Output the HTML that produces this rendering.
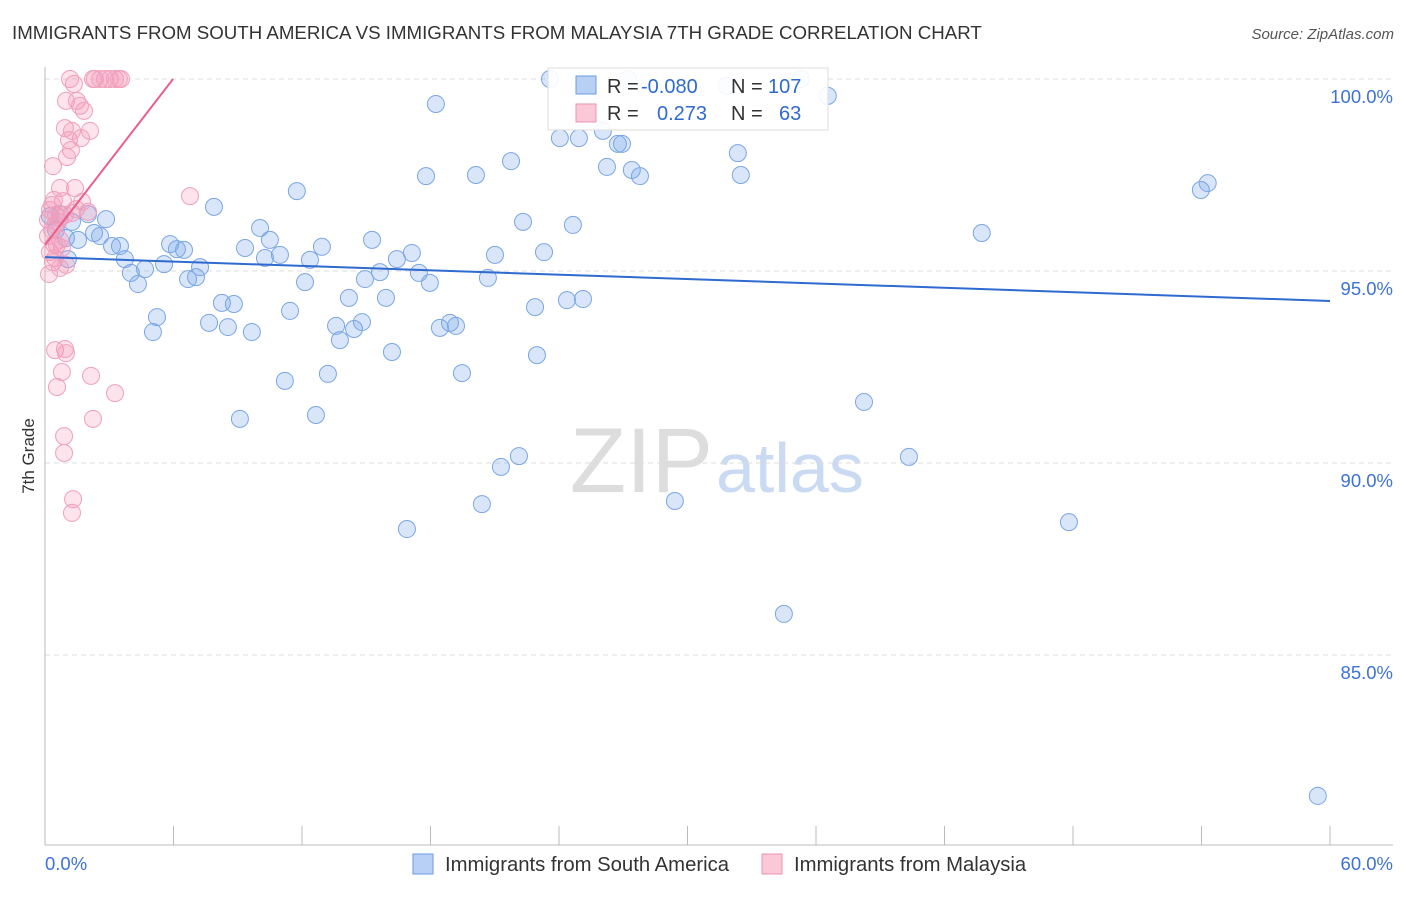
<!DOCTYPE html>
<html><head><meta charset="utf-8"><style>
body{margin:0;background:#fff;font-family:"Liberation Sans",sans-serif}
svg text{font-family:"Liberation Sans",sans-serif}
</style></head><body>
<svg width="1406" height="892">
<text x="12" y="39" font-size="18.7" fill="#333">IMMIGRANTS FROM SOUTH AMERICA VS IMMIGRANTS FROM MALAYSIA 7TH GRADE CORRELATION CHART</text>
<text x="1394" y="39" font-size="15" fill="#555" text-anchor="end" font-style="italic">Source: ZipAtlas.com</text>
<text x="34" y="456" font-size="17" fill="#333" transform="rotate(-90 34 456)" text-anchor="middle">7th Grade</text>
<text x="713" y="492" font-size="92" fill="#ddd" text-anchor="end" font-family="Liberation Serif">ZIP</text>
<text x="716" y="492" font-size="70" fill="#c9daf2">atlas</text>
<g id="grid"></g><g id="axes"></g><g id="pts"></g><g id="trend"></g>
<g>
<rect x="548" y="68" width="280" height="62" fill="#fff" fill-opacity="0.9" stroke="#ddd"/>
<rect x="576" y="76" width="20" height="18" fill="#b7d0f4" stroke="#6a9be0"/>
<rect x="576" y="104" width="20" height="18" fill="#fbc8d8" stroke="#ee93b1"/>
<text x="607" y="93" font-size="20" fill="#333">R =</text>
<text x="641" y="93" font-size="20" fill="#2f6ad0">-0.080</text>
<text x="731" y="93" font-size="20" fill="#333">N =</text>
<text x="768" y="93" font-size="20" fill="#2f6ad0">107</text>
<text x="607" y="120" font-size="20" fill="#333">R =</text>
<text x="657" y="120" font-size="20" fill="#2f6ad0">0.273</text>
<text x="731" y="120" font-size="20" fill="#333">N =</text>
<text x="779" y="120" font-size="20" fill="#2f6ad0">63</text>
</g>
<g>
<rect x="413" y="854" width="20" height="20" fill="#b7d0f4" stroke="#6a9be0"/>
<text x="445" y="871" font-size="20.3" fill="#333">Immigrants from South America</text>
<rect x="762" y="854" width="20" height="20" fill="#fbc8d8" stroke="#ee93b1"/>
<text x="794" y="871" font-size="20.3" fill="#333">Immigrants from Malaysia</text>
</g>
</svg>
<script>
const blueX=[23.58,27.22,31.84,35.29,36.55,18.25,24.04,24.93,26.05,26.75,26.94,32.35,21.76,26.24,27.40,27.78,32.49,17.79,20.12,11.76,53.97,54.29,7.89,43.74,22.32,24.65,2.85,2.01,0.70,1.26,10.04,10.50,2.29,2.57,0.98,3.50,3.13,5.84,6.16,6.49,9.34,10.97,10.27,12.93,12.37,15.27,17.13,16.43,21.01,23.30,3.73,5.56,4.67,4.01,4.34,6.68,7.24,7.05,15.64,14.94,17.46,17.97,20.68,12.14,14.19,15.92,8.26,8.82,24.37,25.12,22.88,11.44,5.23,5.04,7.66,8.54,9.66,13.59,14.80,14.43,13.77,18.44,18.91,19.19,16.20,22.97,11.20,13.21,19.47,38.24,9.10,12.65,22.13,21.29,40.34,20.40,29.41,16.90,47.81,34.50,59.43,1.07,0.23,0.51,1.54];
const blueY=[100,100,99.82,100,99.56,99.35,98.46,98.46,98.65,98.31,98.31,98.07,97.86,97.71,97.63,97.47,97.50,97.47,97.50,97.08,97.11,97.29,96.67,95.99,96.28,96.20,96.35,96.48,96.48,96.28,96.12,95.81,95.99,95.91,95.86,95.65,95.65,95.70,95.57,95.55,95.60,95.42,95.34,95.63,95.29,95.81,95.47,95.31,95.42,95.49,95.31,95.18,95.05,94.95,94.66,94.79,95.10,94.84,94.97,94.79,94.95,94.69,94.82,94.71,94.30,94.30,94.17,94.14,94.24,94.27,94.06,93.96,93.80,93.41,93.65,93.54,93.41,93.57,93.67,93.49,93.20,93.52,93.65,93.57,92.89,92.81,92.14,92.32,92.34,91.59,91.15,91.25,90.18,89.90,90.16,88.93,89.01,88.28,88.46,86.07,81.33,95.31,96.43,96.07,95.81];
const pinkX=[1.17,1.35,2.33,2.57,2.80,3.03,3.27,3.45,3.55,2.24,0.98,1.49,1.63,1.82,0.93,1.26,1.12,1.68,2.10,1.21,1.03,0.37,0.70,1.40,1.45,0.42,1.73,2.01,0.84,0.23,0.51,0.61,0.33,0.14,0.42,0.70,0.23,0.47,0.19,0.70,6.77,0.93,1.26,0.47,0.93,0.98,0.79,0.56,2.15,3.27,2.24,0.89,0.89,1.31,1.26,0.47,0.14,0.33,0.70,0.56,0.79,0.37,0.98];
const pinkY=[100,99.87,100,100,100,100,100,100,100,100,99.43,99.43,99.30,99.17,98.72,98.65,98.41,98.46,98.65,98.15,97.97,97.73,97.16,97.16,96.61,96.85,96.80,96.54,96.82,96.59,96.46,96.28,96.07,95.91,95.70,95.81,95.49,95.34,94.92,95.08,96.95,96.46,96.51,92.94,92.97,92.86,92.37,91.98,92.27,91.82,91.15,90.70,90.26,89.06,88.70,96.20,96.33,96.72,96.38,95.68,95.60,95.23,95.16];
const blueTrendX=[0,60], blueTrendY=[95.36,94.22];
const pinkTrendX=[0,5.98], pinkTrendY=[95.68,100];
const yTicks=[100,95,90,85], yTickLabels=["100.0%","95.0%","90.0%","85.0%"];
const xTicks=[0,6,12,18,24,30,36,42,48,54,60];
const xEndLabels=["0.0%","60.0%"];
const NS="http://www.w3.org/2000/svg";
const X=v=>45+v/60*1285, Y=v=>79+(100-v)*38.4;
function mk(tag,attrs,parent){const e=document.createElementNS(NS,tag);for(const k in attrs)e.setAttribute(k,attrs[k]);document.getElementById(parent).appendChild(e);return e;}
yTicks.forEach((t,i)=>{
 const l=mk('line',{x1:45,x2:1393,y1:Y(t),y2:Y(t),stroke:'#ddd','stroke-dasharray':'5,4'},'grid');
 
 
 const tx=mk('text',{x:1393,y:Y(t)+24,'font-size':18.5,fill:'#3d72d6','text-anchor':'end'},'grid');tx.textContent=yTickLabels[i];
 
 
});
const ax=mk('line',{x1:45,x2:45,y1:67,y2:845,stroke:'#bbb'},'axes');


const bx=mk('line',{x1:45,x2:1393,y1:845,y2:845,stroke:'#bbb'},'axes');


xTicks.forEach(t=>{const l=mk('line',{x1:X(t),x2:X(t),y1:826,y2:845,stroke:'#bbb'},'axes');
 
 });
[[0,'start',45],[1,'end',1393]].forEach(([i,a,x])=>{const t=mk('text',{x:x,y:870,'font-size':18.5,fill:'#3d72d6','text-anchor':a},'axes');t.textContent=xEndLabels[i];
 
 });
blueX.forEach((v,i)=>{const c=mk('circle',{cx:X(v),cy:Y(blueY[i]),r:8.5,fill:'rgba(120,165,235,0.28)',stroke:'#7aa6e4','stroke-width':1},'pts');
 
 });
pinkX.forEach((v,i)=>{const c=mk('circle',{cx:X(v),cy:Y(pinkY[i]),r:8.5,fill:'rgba(245,155,185,0.28)',stroke:'#f0a0bb','stroke-width':1},'pts');
 
 });
const bt=mk('line',{x1:X(blueTrendX[0]),y1:Y(blueTrendY[0]),x2:X(blueTrendX[1]),y2:Y(blueTrendY[1]),stroke:'#2f6ad0','stroke-width':2},'trend');


const pt=mk('line',{x1:X(pinkTrendX[0]),y1:Y(pinkTrendY[0]),x2:X(pinkTrendX[1]),y2:Y(pinkTrendY[1]),stroke:'#e8608a','stroke-width':2},'trend');


</script>
</body></html>
